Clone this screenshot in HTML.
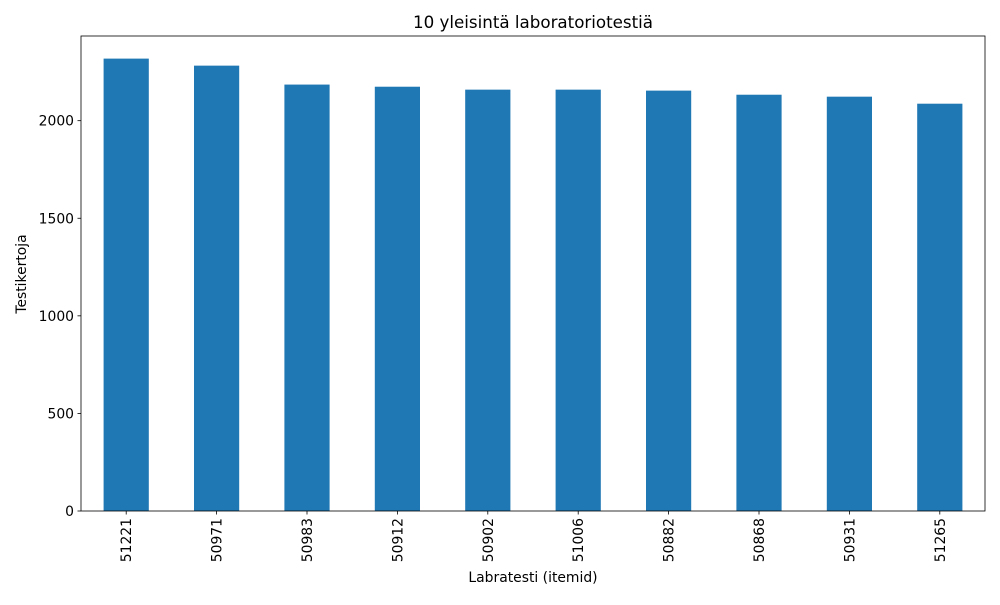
<!DOCTYPE html>
<html><head><meta charset="utf-8"><style>
body{margin:0;background:#fff;font-family:"Liberation Sans","DejaVu Sans",sans-serif}
svg text{font-family:"DejaVu Sans","Liberation Sans",sans-serif;fill:#000}
</style></head><body>
<svg id="chart" width="1000" height="600">
<text x="533" y="28" font-size="16.7" text-anchor="middle">10 yleisintä laboratoriotestiä</text>
<g id="plot"></g>
<text x="533" y="582" font-size="13.9" text-anchor="middle">Labratesti (itemid)</text>
<text transform="translate(26,274) rotate(-90)" font-size="13.9" text-anchor="middle">Testikertoja</text>
</svg>
<script>
const categories=["51221","50971","50983","50912","50902","51006","50882","50868","50931","51265"];
const counts=[2318,2282,2185,2174,2159,2159,2154,2133,2123,2087];
const yTicks=[0,500,1000,1500,2000];
const L=81,R=985,T=36,B=511;
const yMax=Math.max(...counts)*1.05;
const y=v=>B-(v/yMax)*(B-T);
const step=(R-L)/categories.length;
const x=i=>L+step*(i+0.5);
const ns="http://www.w3.org/2000/svg";
const g=document.getElementById('plot');
function mk(t,a){const e=document.createElementNS(ns,t);for(const k in a)e.setAttribute(k,a[k]);g.appendChild(e);return e;}
counts.forEach((v,i)=>{
 const r=mk('rect',{x:x(i)-step*0.25,y:y(v),width:step*0.5,height:B-y(v),fill:'#1f77b4'});
 
 
 const tk=mk('line',{x1:x(i),x2:x(i),y1:B,y2:B+3.5,stroke:'#000','stroke-width':0.8});
 
 
 const t=mk('text',{transform:`translate(${x(i)+5},${B+7}) rotate(-90)`,'font-size':13.9,'text-anchor':'end'});
 t.textContent=categories[i];
 
 
});
yTicks.forEach(v=>{
 const tk=mk('line',{x1:L-3.5,x2:L,y1:y(v),y2:y(v),stroke:'#000','stroke-width':0.8});
 
 
 const t=mk('text',{x:L-7,y:y(v)+5,'font-size':13.9,'text-anchor':'end'});
 t.textContent=v;
 
 
});
const f=mk('rect',{x:L,y:T,width:R-L,height:B-T,fill:'none',stroke:'#000','stroke-width':0.8});


</script>
</body></html>
